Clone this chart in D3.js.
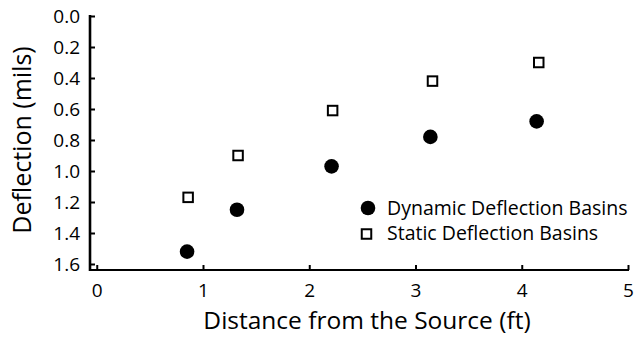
<!DOCTYPE html>
<html>
<head>
<meta charset="utf-8">
<script src="https://cdn.jsdelivr.net/npm/d3@7"></script>
<style>
  body { margin: 0; background: #fff; }
  text { font-family: "Open Sans", Lato, sans-serif; fill: #000; }
</style>
</head>
<body>
<div id="chart"></div>
<script>
const xTicks = [0, 1, 2, 3, 4, 5];
const yTicks = [0, 0.2, 0.4, 0.6, 0.8, 1.0, 1.2, 1.4, 1.6];

// distance from source (ft)
const dynamicX = [0.85, 1.32, 2.21, 3.14, 4.14];
const dynamicY = [1.52, 1.25, 0.97, 0.78, 0.68];
const staticX = [0.86, 1.33, 2.22, 3.16, 4.16];
const staticY = [1.17, 0.90, 0.61, 0.42, 0.30];

const seriesNames = ["Dynamic Deflection Basins", "Static Deflection Basins"];

const width = 638, height = 337;
const axisX = 90, axisY = 270;

const svg = d3.select("#chart").append("svg")
  .attr("width", width)
  .attr("height", height);

const x = d3.scaleLinear().domain([0, 5]).range([96.75, 628]);
const y = d3.scaleLinear().domain([0, 1.6]).range([16, 264]);

// y axis (inverted, ticks pointing inward)
const yAxis = svg.append("g")
  .attr("transform", `translate(${axisX},0)`)
  .call(d3.axisLeft(y).tickValues(yTicks).tickFormat(d3.format(".1f"))
    .tickSize(-5).tickSizeOuter(0).tickPadding(10));
yAxis.select(".domain").remove();
yAxis.selectAll(".tick line").attr("stroke", "#000").attr("stroke-width", 2);
yAxis.selectAll(".tick text").style("font-size", "19px").attr("dy", "0.36em");

const xAxis = svg.append("g")
  .attr("transform", `translate(0,${axisY})`)
  .call(d3.axisBottom(x).tickValues(xTicks).tickFormat(d3.format("d"))
    .tickSize(-5).tickSizeOuter(0).tickPadding(13));
xAxis.select(".domain").remove();
xAxis.selectAll(".tick line").attr("stroke", "#000").attr("stroke-width", 2);
xAxis.selectAll(".tick text").style("font-size", "19px").attr("dy", "0.72em");

svg.append("line")
  .attr("x1", axisX).attr("x2", axisX)
  .attr("y1", y(0) - 1).attr("y2", axisY + 1)
  .attr("stroke", "#000").attr("stroke-width", 2.6);
svg.append("line")
  .attr("x1", axisX).attr("x2", x(5) + 1)
  .attr("y1", axisY).attr("y2", axisY)
  .attr("stroke", "#000").attr("stroke-width", 2);

// axis titles
svg.append("text")
  .attr("x", 367).attr("y", 329)
  .attr("text-anchor", "middle")
  .style("font-size", "24.5px")
  .text("Distance from the Source (ft)");

svg.append("text")
  .attr("transform", `translate(31,140) rotate(-90)`)
  .attr("text-anchor", "middle")
  .style("font-size", "25px")
  .text("Deflection (mils)");

// data
const dyn = dynamicX.map((d, i) => ({x: d, y: dynamicY[i]}));
const sta = staticX.map((d, i) => ({x: d, y: staticY[i]}));

svg.append("g").selectAll("circle")
  .data(dyn).enter()
  .append("circle")
  .attr("cx", d => x(d.x))
  .attr("cy", d => y(d.y))
  .attr("r", 7.3)
  .attr("fill", "#000");

const sq = 9.5;
svg.append("g").selectAll("rect")
  .data(sta).enter()
  .append("rect")
  .attr("x", d => x(d.x) - sq / 2)
  .attr("y", d => y(d.y) - sq / 2)
  .attr("width", sq).attr("height", sq)
  .attr("fill", "#fff")
  .attr("stroke", "#000").attr("stroke-width", 2);

// legend
const legend = svg.append("g").attr("transform", "translate(368,208)");
legend.append("circle").attr("cx", 0).attr("cy", 0).attr("r", 7.3).attr("fill", "#000");
legend.append("rect")
  .attr("x", -1.5 - sq / 2).attr("y", 26 - sq / 2)
  .attr("width", sq).attr("height", sq)
  .attr("fill", "#fff").attr("stroke", "#000").attr("stroke-width", 2);
legend.selectAll("text.lbl")
  .data(seriesNames).enter()
  .append("text")
  .attr("class", "lbl")
  .attr("x", 19)
  .attr("y", (d, i) => i * 25)
  .attr("dy", "0.36em")
  .style("font-size", "19.5px")
  .text(d => d);
</script>
</body>
</html>
